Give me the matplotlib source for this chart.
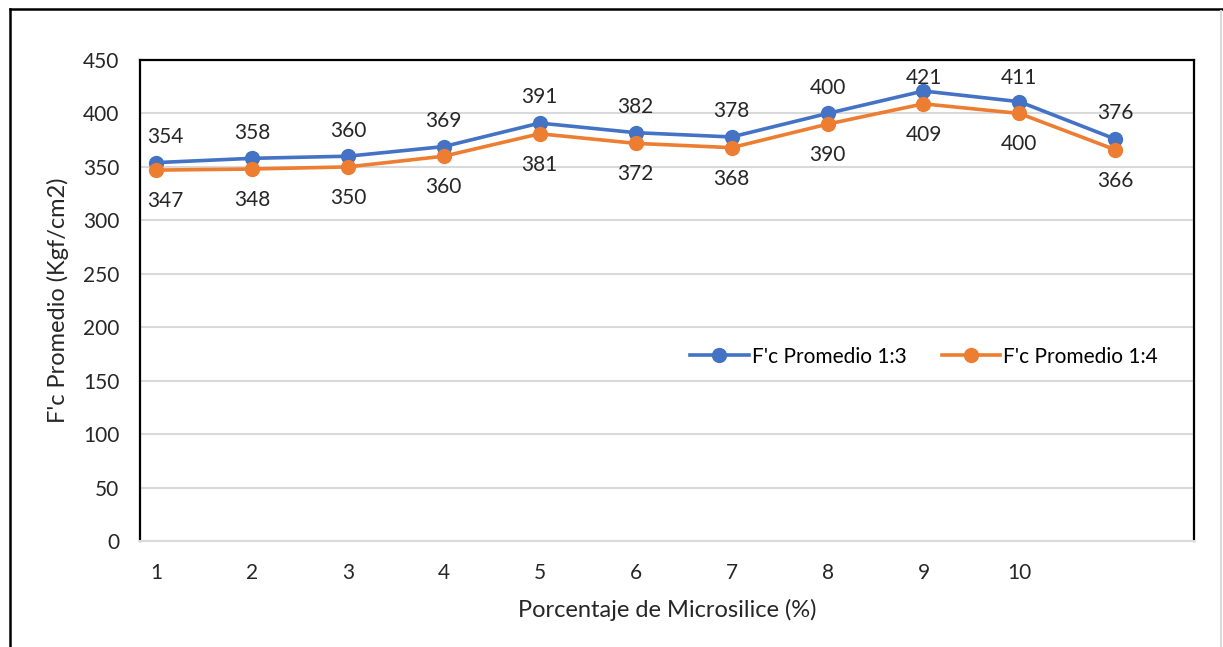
import matplotlib.pyplot as plt
from matplotlib.lines import Line2D

plt.rcParams['font.family'] = ['Lato', 'DejaVu Sans']

# datos
porcentaje = [1, 2, 3, 4, 5, 6, 7, 8, 9, 10, 11]
fc_13 = [354, 358, 360, 369, 391, 382, 378, 400, 421, 411, 376]
fc_14 = [347, 348, 350, 360, 381, 372, 368, 390, 409, 400, 366]
xticks = [1, 2, 3, 4, 5, 6, 7, 8, 9, 10]
yticks = [0, 50, 100, 150, 200, 250, 300, 350, 400, 450]

azul = "#4472C4"
naranja = "#ED7D31"
gris_txt = "#262626"
fs = 15

fig = plt.figure(figsize=(12.23, 6.47), dpi=100)
ax = fig.add_axes([140/1223, 1 - 541/647, 1054/1223, 481/647])

ax.plot(porcentaje, fc_13, color=azul, lw=2.6, marker="o", ms=10,
        label="F'c Promedio 1:3", zorder=3)
ax.plot(porcentaje, fc_14, color=naranja, lw=2.6, marker="o", ms=10,
        label="F'c Promedio 1:4", zorder=3)

# etiquetas de datos (como Excel: se mantienen dentro del area de trazado)
for x, v in zip(porcentaje, fc_13):
    ax.text(max(x, 1.1), min(v + 24, 433), str(v), ha="center", va="center",
            fontsize=fs, color=gris_txt)
for x, v in zip(porcentaje, fc_14):
    ax.text(max(x, 1.1), v - 29, str(v), ha="center", va="center",
            fontsize=fs, color=gris_txt)

ax.set_xlim(0.833, 11.82)
ax.set_ylim(0, 450)
ax.set_xticks(xticks)
ax.set_yticks(yticks)
ax.tick_params(length=0, labelsize=fs, colors=gris_txt)
ax.tick_params(axis="x", pad=16)
ax.tick_params(axis="y", pad=15)
ax.grid(axis="y", color="#D9D9D9", lw=1.5)
ax.set_axisbelow(True)

for s in ["left", "top", "right"]:
    ax.spines[s].set_color("black")
    ax.spines[s].set_linewidth(1.6)
ax.spines["bottom"].set_color("#D9D9D9")
ax.spines["bottom"].set_linewidth(1.5)

ax.set_xlabel("Porcentaje de Microsilice (%)", fontsize=17, color=gris_txt, labelpad=11)
ax.set_ylabel("F'c Promedio (Kgf/cm2)", fontsize=17, color=gris_txt, labelpad=10)

ax.legend(loc="center", bbox_to_anchor=(0.744, 0.383), ncol=2, frameon=False,
          fontsize=fs, handlelength=2.8, columnspacing=1.7, handletextpad=0.15)

# marco exterior
fig.add_artist(Line2D([10/1223, 1], [1 - 9/647, 1 - 9/647], color="black", lw=1.8))
fig.add_artist(Line2D([10/1223, 10/1223], [0, 1 - 9/647], color="black", lw=1.8))
fig.add_artist(Line2D([1221/1223, 1221/1223], [0, 1 - 11/647], color="#D9D9D9", lw=1.5))

fig.savefig("out.png", dpi=100)
